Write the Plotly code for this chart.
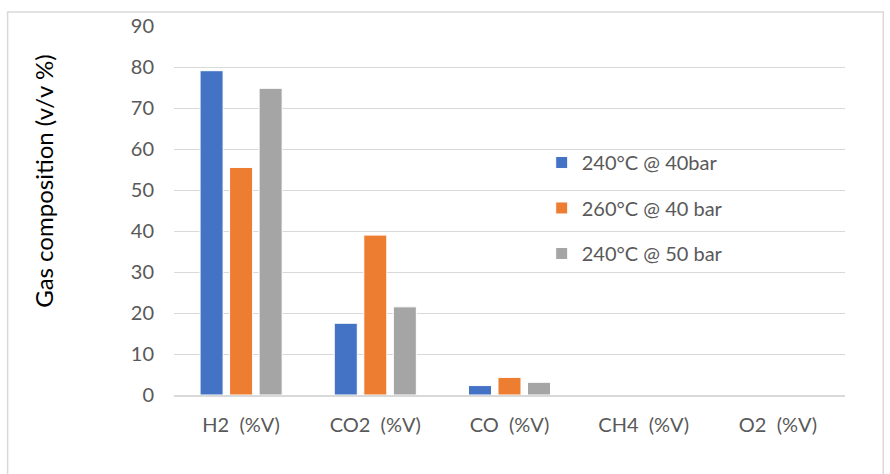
import plotly.graph_objects as go

categories = ["H2  (%V)", "CO2  (%V)", "CO  (%V)", "CH4  (%V)", "O2  (%V)"]
series_names = ["240°C @ 40bar", "260°C @ 40 bar", "240°C @ 50 bar"]
vals_240_40 = [79.1, 17.5, 2.3, 0, 0]
vals_260_40 = [55.5, 39.0, 4.3, 0, 0]
vals_240_50 = [74.8, 21.5, 3.1, 0, 0]
colors = ["#4472C4", "#ED7D31", "#A5A5A5"]

FONT = "Lato"
TXT = "#595959"

fig = go.Figure()
for i, (name, vals) in enumerate(zip(series_names, [vals_240_40, vals_260_40, vals_240_50])):
    fig.add_trace(go.Bar(
        x=categories, y=vals, name=name, legendgroup=f"g{i}",
        marker=dict(color=colors[i], line=dict(color="white", width=1)),
    ))

fig.update_layout(
    width=890, height=474,
    margin=dict(l=174, r=45, t=26, b=79),
    paper_bgcolor="white", plot_bgcolor="white",
    barmode="group", bargap=0.34, bargroupgap=0.22,
    font=dict(family=FONT, size=20, color=TXT),
    legend=dict(
        x=0.548, y=0.683, xanchor="left", yanchor="top",
        bgcolor="rgba(0,0,0,0)", tracegroupgap=16.5,
        font=dict(family=FONT, size=20, color=TXT),
        itemwidth=30,
    ),
    showlegend=True,
)
fig.update_yaxes(
    range=[0, 90], dtick=10, showgrid=True, gridcolor="#D9D9D9", gridwidth=1,
    zeroline=False, showline=False, ticks="", ticklen=0, ticklabelstandoff=19,
    tickfont=dict(family=FONT, size=20, color=TXT),
)
fig.update_xaxes(
    showline=True, linecolor="#D9D9D9", linewidth=2, ticks="", ticklabelstandoff=11,
    tickfont=dict(family=FONT, size=20, color=TXT),
)
fig.add_annotation(
    text="Gas composition (v/v %)", xref="paper", yref="paper",
    x=-0.194, y=0.58, xanchor="center", yanchor="middle", textangle=-90,
    showarrow=False, font=dict(family=FONT, size=24, color="#000000"),
)
# chart-area border
fig.add_shape(
    type="rect", xref="paper", yref="paper",
    x0=-0.248, x1=1.057, y0=-0.3, y1=1.038,
    line=dict(color="#D9D9D9", width=1.5), fillcolor="rgba(0,0,0,0)",
)
fig.write_html("out.html")
